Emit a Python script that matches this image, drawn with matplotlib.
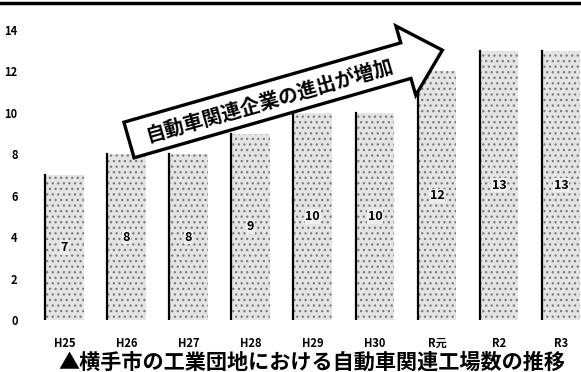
import matplotlib.pyplot as plt
from matplotlib.lines import Line2D
from matplotlib.patches import Polygon
from matplotlib.transforms import Affine2D

plt.rcParams['font.family'] = ['Noto Sans CJK JP', 'DejaVu Sans']
plt.rcParams['hatch.linewidth'] = 0.9

# =========================
# DATA
# =========================
years = ["H25", "H26", "H27", "H28", "H29", "H30", "R元", "R2", "R3"]
factories = [7, 8, 8, 9, 10, 10, 12, 13, 13]
y_ticks = [0, 2, 4, 6, 8, 10, 12, 14]

title = "▲横手市の工業団地における自動車関連工場数の推移"
arrow_text = "自動車関連企業の進出が増加"

# =========================
# PLOT
# =========================
fig = plt.figure(figsize=(5.81, 3.72), dpi=100)
ax = fig.add_axes([0.052, 0.14, 0.948, 0.835])

x = range(len(years))
bars = ax.bar(x, factories, width=0.62, color='#e4e4e4', hatch='...',
              edgecolor='#7a7a7a', linewidth=0)

# dark left edge of each bar, like the scan
for b in bars:
    ax.plot([b.get_x(), b.get_x()], [0, b.get_height()], color='black', lw=1.6)

for i, v in enumerate(factories):
    ax.text(i, v / 2, str(v), ha='center', va='center',
            fontsize=9, fontweight='bold', color='black',
            bbox=dict(boxstyle='square,pad=0.05', fc='#eeeeee', ec='none'))

ax.set_xlim(-0.55, 8.32)
ax.set_ylim(0, 15)
ax.set_yticks(y_ticks)
ax.set_yticklabels([str(t) for t in y_ticks], fontsize=8, fontweight='bold')
ax.set_xticks(list(x))
ax.set_xticklabels(years, fontsize=8, fontweight='bold')
ax.tick_params(axis='x', length=0, pad=12)
ax.tick_params(axis='y', length=0, pad=9)
for s in ax.spines.values():
    s.set_visible(False)

# arrow shape (in pixels, along/perp frame) rotated by 16 degrees
arrow_pts = [(0, -18.5), (288, -18.5), (288, -36), (326, 0),
             (288, 36), (288, 18.5), (0, 18.5)]
tr = Affine2D().rotate_deg(16).translate(129, 232).scale(1 / 100.0) + fig.dpi_scale_trans
fig.add_artist(Polygon(arrow_pts, closed=True, fc='white', ec='black',
                       lw=2.4, transform=tr, joinstyle='miter'))
fig.text(0.463, 0.73, arrow_text, ha='center', va='center', rotation=16,
         rotation_mode='anchor', fontsize=14.2, fontweight='bold', color='black')

fig.text(0.537, 0.027, title, ha='center', va='center', fontsize=15.2,
         fontweight='bold', color='black')

# border line at top of the scan
fig.add_artist(Line2D([0, 1], [0.992, 0.992], transform=fig.transFigure,
                      color='black', lw=2.5))

plt.savefig("out.png", dpi=100)
